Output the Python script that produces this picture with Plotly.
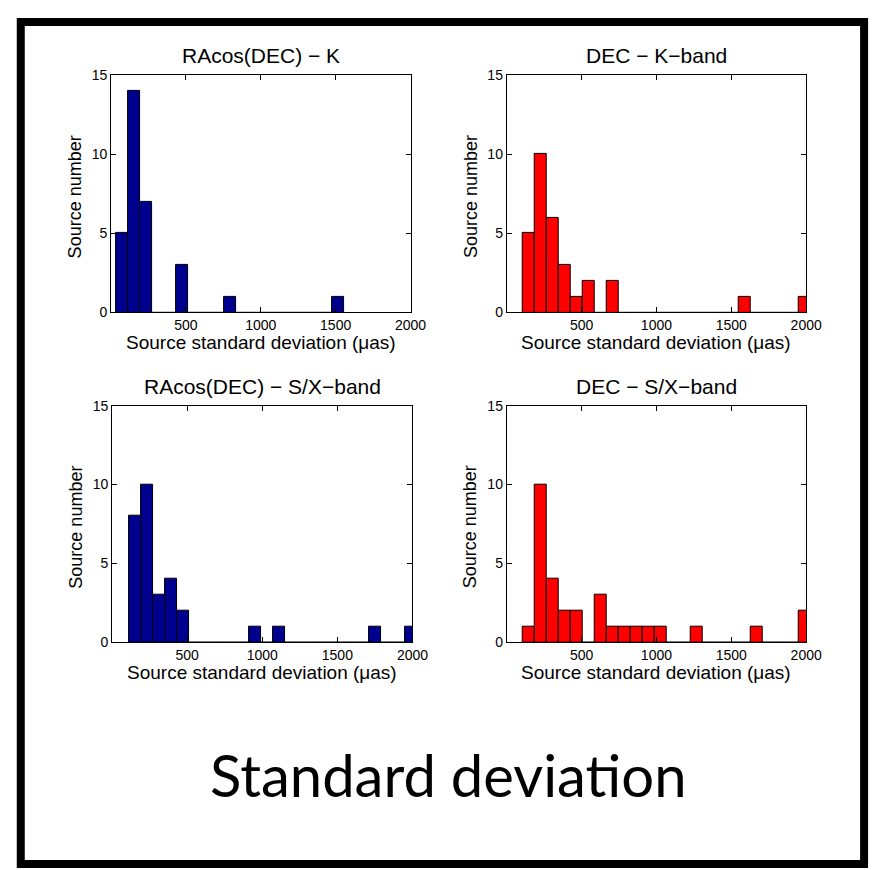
import plotly.graph_objects as go

# ---------------- data ----------------
titles = ["RAcos(DEC) \u2212 K", "DEC \u2212 K\u2212band",
          "RAcos(DEC) \u2212 S/X\u2212band", "DEC \u2212 S/X\u2212band"]

# panel 1: RAcos(DEC) - K
p1_centers = [73, 153, 234, 314, 394, 475, 555, 635, 716, 796, 876, 957,
              1037, 1117, 1198, 1278, 1358, 1439, 1519]
p1_counts = [5, 14, 7, 0, 0, 3, 0, 0, 0, 1, 0, 0, 0, 0, 0, 0, 0, 0, 1]
p1_width = 80.4

# panel 2: DEC - K-band
p2_centers = [147, 227, 307, 387, 467, 547, 627, 707, 787, 867, 947, 1027,
              1107, 1187, 1267, 1347, 1427, 1507, 1587, 1667, 1747, 1827, 1907, 1987]
p2_counts = [5, 10, 6, 3, 1, 2, 0, 2, 0, 0, 0, 0, 0, 0, 0, 0, 0, 0, 1, 0, 0, 0, 0, 1]
p2_width = 80

# panel 3: RAcos(DEC) - S/X-band
p3_centers = [151, 231, 311, 391, 471, 551, 631, 711, 791, 871, 951, 1031,
              1111, 1191, 1271, 1351, 1431, 1511, 1591, 1671, 1751, 1831, 1911, 1991]
p3_counts = [8, 10, 3, 4, 2, 0, 0, 0, 0, 0, 1, 0, 1, 0, 0, 0, 0, 0, 0, 0, 1, 0, 0, 1]
p3_width = 80

# panel 4: DEC - S/X-band
p4_centers = [147, 227, 307, 387, 467, 547, 627, 707, 787, 867, 947, 1027,
              1107, 1187, 1267, 1347, 1427, 1507, 1587, 1667, 1747, 1827, 1907, 1987]
p4_counts = [1, 10, 4, 2, 2, 0, 3, 1, 1, 1, 1, 1, 0, 0, 1, 0, 0, 0, 0, 1, 0, 0, 0, 2]
p4_width = 80

x_ticks = [500, 1000, 1500, 2000]
y_ticks = [0, 5, 10, 15]
x_label = "Source standard deviation (\u03bcas)"
y_label = "Source number"
big_title = "Standard deviation"

BLUE = "rgb(0,0,143)"
RED = "rgb(255,0,0)"
FONT = "Liberation Sans, Arial, Helvetica, sans-serif"

W, H = 877, 870

# panel boxes in pixels (left, right, top, bottom)
boxes = [(105, 410, 60, 302), (508, 813, 60, 302),
         (106, 412, 397, 638), (508, 813, 397, 638)]

panels = [(p1_centers, p1_counts, p1_width, BLUE),
          (p2_centers, p2_counts, p2_width, RED),
          (p3_centers, p3_counts, p3_width, BLUE),
          (p4_centers, p4_counts, p4_width, RED)]

fig = go.Figure()
annotations = []
layout_axes = {}

for i, ((cx, cnt, w, col), (l, r, t, b), ttl) in enumerate(zip(panels, boxes, titles)):
    n = i + 1
    xa = "x" if n == 1 else f"x{n}"
    ya = "y" if n == 1 else f"y{n}"
    fig.add_trace(go.Bar(x=cx, y=cnt, width=w, xaxis=xa, yaxis=ya,
                         marker=dict(color=col, line=dict(color="black", width=1)),
                         showlegend=False, hoverinfo="x+y"))
    xkey = "xaxis" if n == 1 else f"xaxis{n}"
    ykey = "yaxis" if n == 1 else f"yaxis{n}"
    common = dict(showline=True, linecolor="black", linewidth=1, mirror="allticks",
                  ticks="inside", ticklen=5, tickcolor="black", tickwidth=1,
                  showgrid=False, zeroline=False, fixedrange=True,
                  tickfont=dict(family=FONT, size=14, color="black"))
    layout_axes[xkey] = dict(common, domain=[l / W, r / W], range=[0, 2000],
                             tickvals=x_ticks, anchor=ya)
    layout_axes[ykey] = dict(common, domain=[1 - b / H, 1 - t / H], range=[0, 15],
                             tickvals=y_ticks, anchor=xa)
    cxp = (l + r) / 2
    annotations.append(dict(text=ttl, x=cxp / W, y=1 - (t - 20) / H, xref="paper", yref="paper",
                            xanchor="center", yanchor="middle", showarrow=False,
                            font=dict(family=FONT, size=21, color="black")))
    annotations.append(dict(text=x_label, x=cxp / W, y=1 - (b + 31) / H, xref="paper", yref="paper",
                            xanchor="center", yanchor="middle", showarrow=False,
                            font=dict(family=FONT, size=19, color="black")))
    annotations.append(dict(text=y_label, x=(l - 37) / W, y=1 - ((t + b) / 2 + 3) / H,
                            xref="paper", yref="paper", textangle=-90,
                            xanchor="center", yanchor="middle", showarrow=False,
                            font=dict(family=FONT, size=18, color="black")))

annotations.append(dict(text=big_title, x=449 / W, y=1 - 773 / H, xref="paper", yref="paper",
                        xanchor="center", yanchor="middle", showarrow=False,
                        font=dict(family="Lato, Open Sans, sans-serif", size=58, color="black")))

fig.update_layout(width=W, height=H, margin=dict(l=0, r=0, t=0, b=0),
                  paper_bgcolor="white", plot_bgcolor="white", bargap=0,
                  annotations=annotations,
                  shapes=[dict(type="rect", xref="paper", yref="paper",
                               x0=13 / W, x1=872 / W, y0=1 - 864 / H, y1=1 - 6 / H,
                               line=dict(color="black", width=8))],
                  **layout_axes)

fig.write_html("out.html")
